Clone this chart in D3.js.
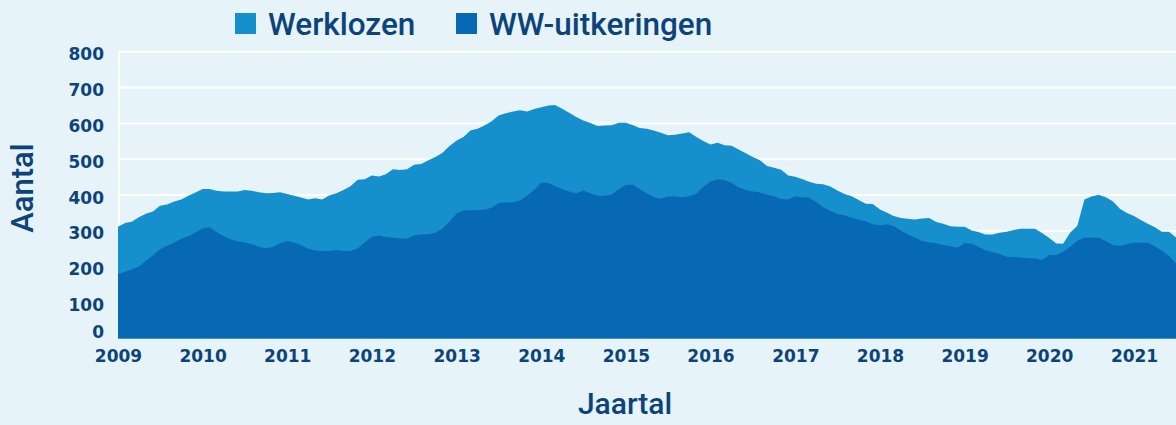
<!DOCTYPE html>
<html>
<head>
<meta charset="utf-8">
<script src="https://cdn.jsdelivr.net/npm/d3@7"></script>
<style>
  html, body { margin: 0; padding: 0; background: #e6f3f9; }
  #chart { width: 1176px; height: 425px; }
  .tick text { font-family: "DejaVu Sans", sans-serif; font-weight: bold; font-size: 17px; fill: #0c4479; }
  .title { font-family: Roboto, sans-serif; font-weight: 500; fill: #0c4479; }
</style>
</head>
<body>
<div id="chart"></div>
<script>
// one value per month, jan 2009 .. jul 2021 (x 1000)
var startYear = 2009;

var werklozen = [
  312, 322, 326, 338, 348, 354, 370, 374, 382, 388, 398, 407,
  417, 417, 412, 410, 410, 410, 414, 412, 408, 405, 406, 408,
  403, 398, 393, 388, 391, 388, 399, 405, 414, 425, 443, 444,
  455, 452, 458, 472, 470, 472, 485, 487, 497, 506, 518, 537,
  552, 563, 580, 585, 594, 606, 622, 628, 633, 637, 633, 640,
  645, 650, 651, 641, 630, 618, 608, 601, 593, 594, 595, 602,
  602, 595, 587, 585, 580, 574, 567, 568, 572, 575, 562, 551,
  541, 546, 539, 538, 527, 517, 506, 497, 481, 476, 471, 455,
  451, 444, 437, 432, 430, 424, 413, 403, 397, 386, 376, 375,
  360, 351, 342, 336, 334, 332, 335, 336, 325, 320, 313, 312,
  312, 301, 297, 290, 290, 295, 298, 303, 306, 306, 306, 294,
  280, 265, 264, 296, 314, 388, 396, 401, 394, 383, 362, 350,
  342, 330, 320, 310, 298, 298, 282
];

var wwUitkeringen = [
  180, 186, 193, 201, 216, 232, 249, 259, 268, 278, 285, 296,
  307, 310, 297, 286, 277, 271, 268, 263, 256, 252, 256, 266,
  272, 268, 260, 251, 246, 244, 244, 247, 244, 244, 251, 268,
  284, 287, 283, 281, 279, 278, 287, 290, 291, 295, 307, 326,
  349, 357, 358, 358, 359, 365, 377, 380, 380, 385, 398, 414,
  435, 434, 425, 417, 410, 405, 413, 405, 398, 398, 402, 416,
  429, 429, 417, 405, 395, 390, 396, 396, 394, 397, 404, 423,
  438, 444, 442, 434, 422, 414, 410, 407, 401, 397, 389, 388,
  397, 394, 393, 381, 366, 356, 347, 344, 337, 331, 327, 319,
  316, 319, 314, 301, 290, 282, 272, 268, 266, 261, 257, 253,
  266, 264, 256, 246, 241, 236, 228, 227, 226, 224, 223, 219,
  233, 233, 242, 256, 273, 281, 281, 281, 272, 261, 259, 263,
  267, 267, 267, 257, 245, 230, 210
];

var yearTicks = [2009, 2010, 2011, 2012, 2013, 2014, 2015, 2016, 2017, 2018, 2019, 2020, 2021];
var yTicks = [0, 100, 200, 300, 400, 500, 600, 700, 800];
var seriesNames = ["Werklozen", "WW-uitkeringen"];
var colors = ["#168fcd", "#0769b3"];

var width = 1176,
  height = 425;

var svg = d3.select("#chart")
  .append("svg")
  .attr("width", width)
  .attr("height", height);

// build rows from the arrays
var data = werklozen.map(function(d, i) {
  return {
    date: new Date(startYear, i, 1),
    werklozen: d,
    ww: wwUitkeringen[i]
  };
});

var x = d3.scaleTime()
  .domain([new Date(startYear, 0, 1), data[data.length - 1].date])
  .range([118, 1176]);

var y = d3.scaleLinear()
  .domain([0, 800])
  .range([338.5, 51.7]);

// gridlines (behind the areas)
svg.append("g")
  .selectAll("line")
  .data(yTicks.slice(1))
  .enter()
  .append("line")
  .attr("x1", 118)
  .attr("x2", width)
  .attr("y1", function(d) { return y(d); })
  .attr("y2", function(d) { return y(d); })
  .attr("stroke", "#ffffff")
  .attr("stroke-width", 2);

// y axis line
svg.append("line")
  .attr("x1", 119)
  .attr("x2", 119)
  .attr("y1", y(800))
  .attr("y2", y(0))
  .attr("stroke", "#ffffff")
  .attr("stroke-width", 2);

// areas
var areaTop = d3.area()
  .x(function(d) { return x(d.date); })
  .y0(y(0))
  .y1(function(d) { return y(d.werklozen); });

var areaBottom = d3.area()
  .x(function(d) { return x(d.date); })
  .y0(y(0))
  .y1(function(d) { return y(d.ww); });

svg.append("path")
  .datum(data)
  .attr("fill", colors[0])
  .attr("d", areaTop);

svg.append("path")
  .datum(data)
  .attr("fill", colors[1])
  .attr("d", areaBottom);

// y axis labels
var yAxis = svg.append("g")
  .attr("transform", "translate(106,0)")
  .call(d3.axisLeft(y).tickValues(yTicks).tickSize(0).tickPadding(2));
yAxis.select(".domain").remove();
yAxis.selectAll(".tick text")
  .attr("y", function(d) { return d === 0 ? -6 : 2.5; });

// x axis labels
var xAxis = svg.append("g")
  .attr("transform", "translate(0,350)")
  .call(d3.axisBottom(x)
    .tickValues(yearTicks.map(function(yr) { return new Date(yr, 0, 1); }))
    .tickFormat(d3.timeFormat("%Y"))
    .tickSize(0)
    .tickPadding(0));
xAxis.select(".domain").remove();
xAxis.selectAll(".tick text").attr("dy", "0.71em");

// legend
var legendX = [235, 456];
var legend = svg.append("g")
  .selectAll("g")
  .data(seriesNames)
  .enter()
  .append("g")
  .attr("transform", function(d, i) {
    return "translate(" + legendX[i] + ",13)";
  });
legend.append("rect")
  .attr("width", 21)
  .attr("height", 21)
  .attr("fill", function(d, i) { return colors[i]; });
legend.append("text")
  .attr("class", "title")
  .attr("x", 33)
  .attr("y", 22)
  .style("font-size", "31.5px")
  .text(function(d) { return d; });

// axis titles
svg.append("text")
  .attr("class", "title")
  .attr("transform", "translate(33,188) rotate(-90)")
  .attr("text-anchor", "middle")
  .style("font-size", "31px")
  .text("Aantal");

svg.append("text")
  .attr("class", "title")
  .attr("x", 625)
  .attr("y", 414)
  .attr("text-anchor", "middle")
  .style("font-size", "30px")
  .text("Jaartal");
</script>
</body>
</html>
